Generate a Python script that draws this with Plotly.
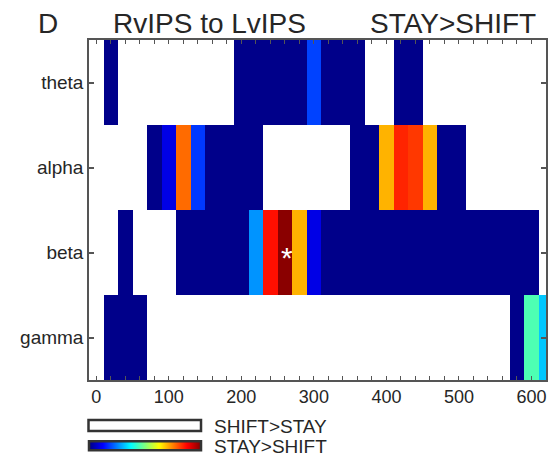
import plotly.graph_objects as go

# ---- data ----
bands = ["theta", "alpha", "beta", "gamma"]
time_ms = list(range(0, 621, 20))  # bin centres (ms)

D = 0.01  # dark blue level (weak effect)
N = None  # no STAY>SHIFT effect (white)

theta = [N, D, N, N, N, N, N, N, N, N, D, D, D, D, D, 0.19,
         D, D, D, N, N, D, D, N, N, N, N, N, N, N, N, N]
alpha = [N, N, N, N, D, 0.10, 0.77, 0.18, D, D, D, D, N, N, N, N,
         N, N, D, D, 0.70, 0.84, 0.82, 0.70, D, D, N, N, N, N, N, N]
beta = [N, N, D, N, N, N, D, D, D, D, D, 0.27, 0.86, 0.99, 0.70, 0.10,
        D, D, D, D, D, D, D, D, D, D, D, D, D, D, D, N]
gamma = [N, D, D, D, N, N, N, N, N, N, N, N, N, N, N, N,
         N, N, N, N, N, N, N, N, N, N, N, N, N, D, 0.45, 0.32]

x_tick_vals = list(range(0, 621, 20))
x_tick_text = [str(v) if v % 100 == 0 else "" for v in x_tick_vals]

star_time = 260
star_band = "beta"

jet = [[0.0, "rgb(0,0,128)"], [0.125, "rgb(0,0,255)"], [0.375, "rgb(0,255,255)"],
       [0.625, "rgb(255,255,0)"], [0.875, "rgb(255,0,0)"], [1.0, "rgb(128,0,0)"]]

W, H = 553, 458
ML, MR, MT, MB = 89, 5, 40, 74
PW, PH = W - ML - MR, H - MT - MB


def px(xp):
    return (xp - ML) / PW


def py(yp):
    return (H - MB - yp) / PH


FONT = "Liberation Sans, Arial, sans-serif"
TXT = "#262626"
AX = "#555555"

fig = go.Figure()
fig.add_trace(go.Heatmap(
    z=[theta, alpha, beta, gamma], x=time_ms, y=bands,
    colorscale=jet, zmin=0, zmax=1, hoverongaps=False,
    colorbar=dict(orientation="h", lenmode="pixels", len=112,
                  thicknessmode="pixels", thickness=9,
                  x=px(145), xanchor="center", y=py(451.5), yanchor="middle",
                  xpad=0, ypad=0, outlinewidth=2.5, outlinecolor="#333333",
                  ticks="", showticklabels=False),
))

fig.update_xaxes(range=[-10, 620], tickvals=x_tick_vals, ticktext=x_tick_text,
                 ticks="inside", ticklen=4, tickwidth=1, tickcolor=AX,
                 showline=True, linecolor=AX, linewidth=1.5, mirror="ticks",
                 showgrid=False, zeroline=False,
                 tickfont=dict(family=FONT, size=18, color=TXT))
fig.update_yaxes(range=[3.5, -0.5], ticks="inside", ticklen=5, tickwidth=1.5,
                 tickcolor=AX, showline=True, linecolor=AX, linewidth=1.5,
                 mirror="ticks", showgrid=False, zeroline=False,
                 tickfont=dict(family=FONT, size=19, color=TXT))

ann = [
    dict(text="D", x=px(36), y=py(23), xanchor="left", yanchor="middle",
         font=dict(size=28, family=FONT, color=TXT)),
    dict(text="RvIPS to LvIPS", x=px(111), y=py(23), xanchor="left", yanchor="middle",
         font=dict(size=28, family=FONT, color=TXT)),
    dict(text="STAY>SHIFT", x=px(369), y=py(23), xanchor="left", yanchor="middle",
         font=dict(size=28, family=FONT, color=TXT)),
    dict(text="SHIFT>STAY", x=px(213), y=py(431), xanchor="left", yanchor="middle",
         font=dict(size=19, family=FONT, color=TXT)),
    dict(text="STAY>SHIFT", x=px(213), y=py(451), xanchor="left", yanchor="middle",
         font=dict(size=19, family=FONT, color=TXT)),
]
for a in ann:
    a.update(xref="paper", yref="paper", showarrow=False)
fig.add_annotation(x=star_time, y=star_band, text="*", showarrow=False,
                   yshift=-5, xshift=2, font=dict(size=30, family=FONT, color="white"))
for a in ann:
    fig.add_annotation(**a)

fig.add_shape(type="rect", xref="paper", yref="paper",
              x0=px(88.5), x1=px(201.5), y0=py(435.5), y1=py(424.5),
              line=dict(color="#333333", width=2.5), fillcolor="white")

fig.update_layout(width=W, height=H, margin=dict(l=ML, r=MR, t=MT, b=MB),
                  plot_bgcolor="white", paper_bgcolor="white", showlegend=False)

fig.write_html("out.html")
